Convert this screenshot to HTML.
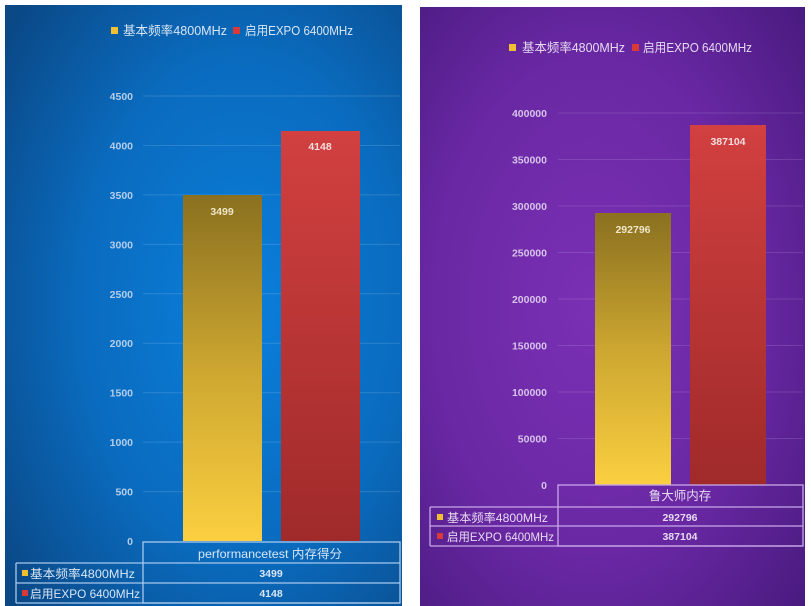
<!DOCTYPE html>
<html><head><meta charset="utf-8">
<style>
html,body{margin:0;padding:0;background:#fff;}
svg{display:block;}
text{font-family:"Liberation Sans","Noto Sans CJK SC",sans-serif;}
</style></head>
<body>
<svg width="811" height="606" viewBox="0 0 811 606" xmlns="http://www.w3.org/2000/svg">
<defs>
<radialGradient id="bgL" cx="0.6" cy="0.5" r="0.75">
<stop offset="0" stop-color="#0a7fdc"/>
<stop offset="0.55" stop-color="#0a6bbe"/>
<stop offset="1" stop-color="#0a4886"/>
</radialGradient>
<radialGradient id="bgR" cx="0.45" cy="0.5" r="0.75">
<stop offset="0" stop-color="#7a30b4"/>
<stop offset="0.55" stop-color="#6a28a4"/>
<stop offset="1" stop-color="#481a7e"/>
</radialGradient>
<linearGradient id="yel" x1="0" y1="0" x2="0" y2="1">
<stop offset="0" stop-color="#8a7020"/>
<stop offset="0.5" stop-color="#cca630"/>
<stop offset="1" stop-color="#fbcf40"/>
</linearGradient>
<linearGradient id="red" x1="0" y1="0" x2="0" y2="1">
<stop offset="0" stop-color="#d24040"/>
<stop offset="1" stop-color="#a02a2a"/>
</linearGradient>
</defs>

<!-- LEFT PANEL -->
<rect x="5" y="5" width="397" height="601" fill="url(#bgL)"/>
<rect x="111" y="27" width="7" height="7" fill="#f0c030"/>
<text x="123" y="35" font-size="12.5" fill="#d8e6f6" textLength="104" lengthAdjust="spacingAndGlyphs">基本频率4800MHz</text>
<rect x="233" y="27" width="7" height="7" fill="#d83a3a"/>
<text x="245" y="35" font-size="12.5" fill="#d8e6f6" textLength="108" lengthAdjust="spacingAndGlyphs">启用EXPO 6400MHz</text>
<g stroke="#ffffff" stroke-opacity="0.14" stroke-width="1">
<line x1="143" y1="96" x2="400" y2="96"/>
<line x1="143" y1="145.5" x2="400" y2="145.5"/>
<line x1="143" y1="194.9" x2="400" y2="194.9"/>
<line x1="143" y1="244.4" x2="400" y2="244.4"/>
<line x1="143" y1="293.8" x2="400" y2="293.8"/>
<line x1="143" y1="343.2" x2="400" y2="343.2"/>
<line x1="143" y1="392.7" x2="400" y2="392.7"/>
<line x1="143" y1="442.1" x2="400" y2="442.1"/>
<line x1="143" y1="491.6" x2="400" y2="491.6"/>
</g>
<g font-size="10.5" font-weight="bold" fill="#b4cdea" text-anchor="end">
<text x="133" y="100">4500</text>
<text x="133" y="149.5">4000</text>
<text x="133" y="199">3500</text>
<text x="133" y="248.5">3000</text>
<text x="133" y="298">2500</text>
<text x="133" y="347">2000</text>
<text x="133" y="396.5">1500</text>
<text x="133" y="446">1000</text>
<text x="133" y="495.5">500</text>
<text x="133" y="545">0</text>
</g>
<rect x="183" y="195" width="79" height="346" fill="url(#yel)"/>
<rect x="281" y="131" width="79" height="410" fill="url(#red)"/>
<text x="222" y="215" font-size="10.5" font-weight="bold" fill="#eee6c8" text-anchor="middle">3499</text>
<text x="320" y="150" font-size="10.5" font-weight="bold" fill="#f4dede" text-anchor="middle">4148</text>
<g stroke="#a8c8ec" stroke-width="1.3" fill="none">
<rect x="143" y="542" width="257" height="61"/>
<line x1="16" y1="563" x2="400" y2="563"/>
<line x1="16" y1="583" x2="400" y2="583"/>
<line x1="16" y1="603" x2="400" y2="603"/>
<line x1="16" y1="563" x2="16" y2="603"/>
</g>
<text x="270" y="558" font-size="12" fill="#d8e6f6" text-anchor="middle" textLength="144" lengthAdjust="spacingAndGlyphs">performancetest 内存得分</text>
<rect x="22" y="570" width="6" height="6" fill="#f0c030"/>
<text x="30" y="578" font-size="12" fill="#d8e6f6" textLength="105" lengthAdjust="spacingAndGlyphs">基本频率4800MHz</text>
<rect x="22" y="590" width="6" height="6" fill="#d83a3a"/>
<text x="30" y="598" font-size="12" fill="#d8e6f6" textLength="110" lengthAdjust="spacingAndGlyphs">启用EXPO 6400MHz</text>
<text x="271" y="577" font-size="10.5" font-weight="bold" fill="#d8e6f6" text-anchor="middle">3499</text>
<text x="271" y="597" font-size="10.5" font-weight="bold" fill="#d8e6f6" text-anchor="middle">4148</text>

<!-- RIGHT PANEL -->
<rect x="420" y="7" width="385" height="599" fill="url(#bgR)"/>
<rect x="509" y="44" width="7" height="7" fill="#f0c030"/>
<text x="522" y="52" font-size="12.5" fill="#e6daf2" textLength="103" lengthAdjust="spacingAndGlyphs">基本频率4800MHz</text>
<rect x="632" y="44" width="7" height="7" fill="#d83a3a"/>
<text x="643" y="52" font-size="12.5" fill="#e6daf2" textLength="109" lengthAdjust="spacingAndGlyphs">启用EXPO 6400MHz</text>
<g stroke="#ffffff" stroke-opacity="0.13" stroke-width="1">
<line x1="558" y1="113" x2="803" y2="113"/>
<line x1="558" y1="159.5" x2="803" y2="159.5"/>
<line x1="558" y1="206" x2="803" y2="206"/>
<line x1="558" y1="252.5" x2="803" y2="252.5"/>
<line x1="558" y1="299" x2="803" y2="299"/>
<line x1="558" y1="345.5" x2="803" y2="345.5"/>
<line x1="558" y1="392" x2="803" y2="392"/>
<line x1="558" y1="438.5" x2="803" y2="438.5"/>
</g>
<g font-size="10.5" font-weight="bold" fill="#d6c2ea" text-anchor="end">
<text x="547" y="117">400000</text>
<text x="547" y="163.5">350000</text>
<text x="547" y="210">300000</text>
<text x="547" y="256.5">250000</text>
<text x="547" y="303">200000</text>
<text x="547" y="349.5">150000</text>
<text x="547" y="396">100000</text>
<text x="547" y="442.5">50000</text>
<text x="547" y="489">0</text>
</g>
<rect x="595" y="213" width="76" height="272" fill="url(#yel)"/>
<rect x="690" y="125" width="76" height="360" fill="url(#red)"/>
<text x="633" y="233" font-size="10.5" font-weight="bold" fill="#eee6c8" text-anchor="middle">292796</text>
<text x="728" y="145" font-size="10.5" font-weight="bold" fill="#f4dede" text-anchor="middle">387104</text>
<g stroke="#c8a8e8" stroke-width="1.3" fill="none">
<rect x="558" y="485" width="245" height="61"/>
<line x1="430" y1="507" x2="803" y2="507"/>
<line x1="430" y1="526" x2="803" y2="526"/>
<line x1="430" y1="546" x2="803" y2="546"/>
<line x1="430" y1="507" x2="430" y2="546"/>
</g>
<text x="680" y="500" font-size="12.5" fill="#e6daf2" text-anchor="middle">鲁大师内存</text>
<rect x="437" y="514" width="6" height="6" fill="#f0c030"/>
<text x="447" y="522" font-size="12" fill="#e6daf2" textLength="101" lengthAdjust="spacingAndGlyphs">基本频率4800MHz</text>
<rect x="437" y="533" width="6" height="6" fill="#d83a3a"/>
<text x="447" y="541" font-size="12" fill="#e6daf2" textLength="107" lengthAdjust="spacingAndGlyphs">启用EXPO 6400MHz</text>
<text x="680" y="521" font-size="10.5" font-weight="bold" fill="#e6daf2" text-anchor="middle">292796</text>
<text x="680" y="540" font-size="10.5" font-weight="bold" fill="#e6daf2" text-anchor="middle">387104</text>
</svg>
</body></html>
